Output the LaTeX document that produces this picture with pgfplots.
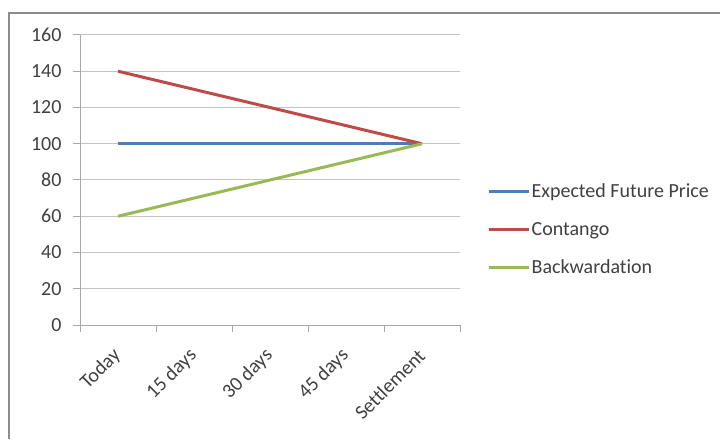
\documentclass[border=0pt]{standalone}
\usepackage{pgfplots}
\pgfplotsset{compat=1.18}
\usepackage{fontspec}
\setmainfont{Carlito}[Ligatures=NoCommon]
\definecolor{cblue}{HTML}{4A7EBB}
\definecolor{cred}{HTML}{BE4B48}
\definecolor{cgreen}{HTML}{98B954}
\definecolor{gridc}{HTML}{C4C4C4}
\definecolor{axc}{HTML}{A8A8A8}
\definecolor{framec}{HTML}{8C8C8C}
\definecolor{txt}{HTML}{404040}
\begin{document}
\begin{tikzpicture}
\useasboundingbox (0pt,0pt) rectangle (720pt,439pt);
\draw[color=framec, line width=1.6pt] (9pt,0pt) -- (9pt,426pt) -- (720pt,426pt);
\begin{axis}[
  at={(80pt,114pt)}, anchor=south west,
  scale only axis, width=380pt, height=290pt,
  xmin=-0.5, xmax=4.5, ymin=0, ymax=160,
  axis lines=left, axis line style={-, color=axc, line width=1pt},
  xtick={0,1,2,3,4},
  xticklabels={Today,15 days,30 days,45 days,Settlement},
  major x tick style={draw=none},
  minor xtick={-0.5,0.5,1.5,2.5,3.5,4.5},
  minor x tick style={color=axc, line width=1pt},
  minor tick length=7pt,
  ytick={0,20,...,160},
  major y tick style={color=axc, line width=1pt},
  major tick length=7pt,
  tick align=outside,
  ymajorgrids, grid style={color=gridc, line width=1pt},
  /pgf/number format/assume math mode=true,
  tick label style={font=\fontsize{20}{24}\selectfont, text=txt},
  yticklabel style={xshift=-8pt},
  xticklabel style={yshift=-18pt, xshift=2pt, rotate=45, anchor=east},
  legend style={at={(1.063,0.50)}, anchor=north west, draw=none, fill=none,
    font=\fontsize{20}{24}\selectfont, text=txt, row sep=20pt,
    nodes={inner sep=1.5pt}},
  legend cell align=left,
  legend image code/.code={\draw[#1] (0pt,0pt) -- (40pt,0pt);},
  every axis plot/.append style={line width=3pt},
]
\addplot[color=cblue] coordinates {(0,100) (1,100) (2,100) (3,100) (4,100)};
\addlegendentry{Expected Future Price}
\addplot[color=cred] coordinates {(0,140) (1,130) (2,120) (3,110) (4,100)};
\addlegendentry{Contango}
\addplot[color=cgreen] coordinates {(0,60) (1,70) (2,80) (3,90) (4,100)};
\addlegendentry{Backwardation}
\end{axis}
\end{tikzpicture}
\end{document}
